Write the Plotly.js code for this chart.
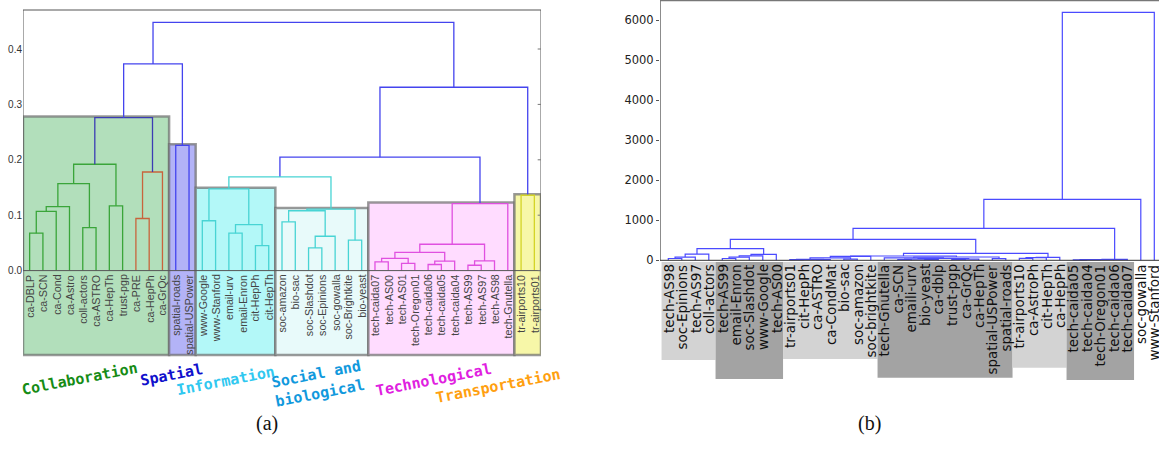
<!DOCTYPE html>
<html><head><meta charset="utf-8">
<script src="https://cdn.plot.ly/plotly-3.0.1.min.js"></script>
<style>html,body{margin:0;padding:0;overflow:hidden;background:#fff}#g{width:1159px;height:449px}</style>
</head><body><div id="g"></div><script>
// ================= DATA: panel (a) =================
const leavesA = ['ca-DBLP','ca-SCN','ca-Cond','ca-Astro','coll-actors','ca-ASTRO','ca-HepTh','trust-pgp','ca-PRE','ca-HepPh','ca-GrQc',
  'spatial-roads','spatial-USPower','www-Google','www-Stanford','email-urv','email-Enron','cit-HepPh','cit-HepTh',
  'soc-amazon','bio-sac','soc-Slashdot','soc-Epinions','soc-gowalla','soc-Brightkite','bio-yeast',
  'tech-caida07','tech-AS00','tech-AS01','tech-Oregon01','tech-caida06','tech-caida05','tech-caida04','tech-AS99','tech-AS97','tech-AS98','tech-Gnutella',
  'tr-airports10','tr-airports01'];
// linkage: merge k joins linkLeftA[k] and linkRightA[k] (ids >= 39 are earlier merges) at linkHeightA[k]
const linkLeftA   = [0,39,40,4,41,6,43,8,46,45,11,48,15,17,51,13,54,19,21,57,56,24,59,55,26,28,63,30,66,65,33,69,68,71,62,37,73,50];
const linkRightA  = [1,2,3,5,42,7,44,9,10,47,12,49,16,18,52,14,53,20,22,23,58,25,60,61,27,29,64,31,32,67,34,35,70,36,72,38,74,75];
const linkHeightA = [0.0675,0.107,0.1155,0.0776,0.157,0.117,0.192,0.094,0.178,0.276,0.226,0.373,
  0.0675,0.045,0.083,0.090,0.1475,0.088,0.041,0.062,0.108,0.055,0.111,0.169,
  0.0157,0.013,0.022,0.011,0.017,0.033,0.0097,0.0175,0.0476,0.121,0.2047,0.136,0.331,0.448];
const linkGroupA  = ['collab','collab','collab','collab','collab','collab','collab','collab2','collab2','navy','blue','blue',
  'info','info','info','info','info','info','info','info','info','info','info','info',
  'tech','tech','tech','tech','tech','tech','tech','tech','tech','tech','blue','trans','blue','blue'];
const tickValsA = [0,0.1,0.2,0.3,0.4];
const tickTextA = ['0.0','0.1','0.2','0.3','0.4'];
const classNamesA = ['Collaboration','Spatial','Information','Social and<br>biological','Technological','Transportation'];
const classFirstA = [0,11,13,19,26,37];
const classLastA  = [10,12,18,25,36,38];

// ================= DATA: panel (b) =================
const leavesB = ['tech-AS98','soc-Epinions','tech-AS97','coll-actors','tech-AS99','email-Enron','soc-Slashdot','www-Google','tech-AS00',
  'tr-airports01','cit-HepPh','ca-ASTRO','ca-CondMat','bio-sac','soc-amazon','soc-brightkite',
  'tech-Gnutella','ca-SCN','emaili-urv','bio-yeast','ca-dblp','trust-pgp','ca-GrQc','ca-HepTh','spatial-USPower','spatial-roads',
  'tr-airports10','ca-AstroPh','cit-HepTh','ca-HepPh','tech-caida05','tech-caida04','tech-Oregon01','tech-caida06','tech-caida07',
  'soc-gowalla','www-Stanford'];
const linkLeftB   = [0,37,38,4,40,41,42,39, 9,11,45,13,47,49, 17,19,51,21,54,53,16,24,57,50, 26,61,62, 60,44, 30,66,67,68, 65,70,71];
const linkRightB  = [1,2,3,5,6,7,8,43, 10,12,46,14,48,15, 18,20,52,22,23,55,56,25,58,59, 27,28,29, 63,64, 31,32,33,34, 69,35,36];
const linkHeightB = [45,80,155,45,80,110,150,292, 15,15,25,30,60,100, 20,20,30,20,30,45,60,42,83,107, 50,67,75, 175,525, 10,15,20,25, 800,1525,6200];
const tickValsB = [0,1000,2000,3000,4000,5000,6000];
const shadeFirstB = [0,4,9,16,26,30];
const shadeLastB  = [3,8,15,25,29,34];

// ================= LAYOUT CONSTANTS =================
const W = 1159, H = 449;
// panel (a) pixel mapping
const aX0 = 23, aX1 = 541, aY0px = 270.6, aPxPerUnit = 554;
const aRangeY = [(aY0px - H) / aPxPerUnit, aY0px / aPxPerUnit];
const aBoxBottom = (aY0px - 355) / aPxPerUnit;
const aTop = (aY0px - 10) / aPxPerUnit;
// panel (b) pixel mapping
const bX0 = 660, bLeaf0px = 668.3, bLeafStep = 13.5, bY0px = 260.3, bUnitPerPx = 25;
const bRangeX = [(bX0 - bLeaf0px) / bLeafStep, (W - bLeaf0px) / bLeafStep];
const bRangeY = [(bY0px - H) * bUnitPerPx, bY0px * bUnitPerPx];
const bPx = px => (bY0px - px) * bUnitPerPx;
const bShadeBottomPx = [360, 379, 359, 377.7, 367.7, 380];
const bShadeColor = ['#d3d3d3', '#a3a3a3'];

const colorA = {collab:'#3aa53a', collab2:'#c8643c', navy:'#3c3cb4', blue:'#4444ee', info:'#48d4d4', tech:'#e050e0', trans:'#d4d428'};
const boxFillA = ['#b2dfbb','#b3b3f7','#b3f8f8','#e8fafa','#ffdcff','#f7f7a8'];
const classColorA = ['#168c16','#1010cc','#30c8f0','#1199dd','#e020e0','#ffa010'];
const classPos = [[79,379,-11],[171,375,-11],[225,381,-11],[318,384,-11],[433,380,-11],[498,386,-11]];

function dendro(n, L, R, Hh) {
  const cx = [], ch = [];
  for (let i = 0; i < n; i++) { cx[i] = i; ch[i] = 0; }
  const links = [];
  for (let k = 0; k < L.length; k++) {
    const a = L[k], b = R[k], h = Hh[k];
    links.push({x: [cx[a], cx[a], cx[b], cx[b]], y: [ch[a], h, h, ch[b]]});
    cx[n + k] = (cx[a] + cx[b]) / 2; ch[n + k] = h;
  }
  return links;
}

const traces = [];
const linksA = dendro(leavesA.length, linkLeftA, linkRightA, linkHeightA);
Object.keys(colorA).forEach(g => {
  const xs = [], ys = [];
  linksA.forEach((l, k) => { if (linkGroupA[k] === g) { xs.push(...l.x, null); ys.push(...l.y, null); } });
  if (xs.length) traces.push({type:'scatter', mode:'lines', x:xs, y:ys, xaxis:'x', yaxis:'y',
    line:{color:colorA[g], width:1.3}, hoverinfo:'skip', showlegend:false});
});
const linksB = dendro(leavesB.length, linkLeftB, linkRightB, linkHeightB);
{
  const xs = [], ys = [];
  linksB.forEach(l => { xs.push(...l.x, null); ys.push(...l.y, null); });
  traces.push({type:'scatter', mode:'lines', x:xs, y:ys, xaxis:'x2', yaxis:'y2',
    line:{color:'#4a4aff', width:1.2}, hoverinfo:'skip', showlegend:false});
}

const shapes = [];
const annotations = [];
classFirstA.forEach((f, i) => {
  let top = 0;
  linksA.forEach((l, k) => {
    const lo = Math.min(l.x[0], l.x[3]), hi = Math.max(l.x[0], l.x[3]);
    if (lo >= f && hi <= classLastA[i]) top = Math.max(top, linkHeightA[k]);
  });
  shapes.push({type:'rect', xref:'x', yref:'y', x0:f - 0.5, x1:classLastA[i] + 0.5, y0:aBoxBottom, y1:top + 0.002,
    fillcolor:boxFillA[i], line:{color:'rgba(110,110,110,0.7)', width:2.5}, layer:'below'});
  annotations.push({xref:'paper', yref:'paper', x:classPos[i][0] / W, y:1 - classPos[i][1] / H, text:classNamesA[i],
    showarrow:false, textangle:classPos[i][2], xanchor:'center', yanchor:'middle',
    font:{family:'DejaVu Sans Mono', size:15, weight:'bold', color:classColorA[i]}});
});
const nA = leavesA.length;
shapes.push({type:'line', xref:'x', yref:'y', x0:-0.5, x1:nA - 0.5, y0:aTop, y1:aTop, line:{color:'#555', width:1}});
shapes.push({type:'line', xref:'x', yref:'y', x0:-0.5, x1:-0.5, y0:0, y1:aTop, line:{color:'#555', width:1}});
shapes.push({type:'line', xref:'x', yref:'y', x0:nA - 0.5, x1:nA - 0.5, y0:0, y1:aTop, line:{color:'#555', width:1}});
shapes.push({type:'line', xref:'x', yref:'y', x0:-0.5, x1:nA - 0.5, y0:0, y1:0, line:{color:'#555', width:1}});
tickValsA.forEach(v => shapes.push({type:'line', xref:'x', yref:'y', x0:nA - 0.5 - 0.25, x1:nA - 0.5, y0:v, y1:v, line:{color:'#777', width:1}}));
leavesA.forEach((t, i) => annotations.push({xref:'x', yref:'y', x:i, y:0, text:t, showarrow:false, textangle:-90,
  xanchor:'center', yanchor:'top', yshift:-2, font:{family:'Liberation Sans, Arial, sans-serif', size:10.7, color:'#444'}}));

shadeFirstB.forEach((f, i) => shapes.push({type:'rect', xref:'x2', yref:'y2', x0:f - 0.5, x1:shadeLastB[i] + 0.5,
  y0:bPx(bShadeBottomPx[i]), y1:bPx(262), fillcolor:bShadeColor[i % 2], line:{width:0}, layer:'below'}));
shapes.push({type:'line', xref:'x2', yref:'paper', x0:bRangeX[0], x1:bRangeX[0], y0:1, y1:1 - bY0px / H, line:{color:'#666', width:1.5}});
shapes.push({type:'line', xref:'x2', yref:'paper', x0:bRangeX[0], x1:bRangeX[1], y0:0.999, y1:0.999, line:{color:'#777', width:1.5}});
shapes.push({type:'line', xref:'x2', yref:'y2', x0:bRangeX[0], x1:bRangeX[1], y0:0, y1:0, line:{color:'#333', width:1}});
leavesB.forEach((t, i) => annotations.push({xref:'x2', yref:'y2', x:i, y:0, text:t, showarrow:false, textangle:-90,
  xanchor:'center', yanchor:'top', yshift:-2, font:{family:'DejaVu Sans', size:13.5, color:'#111'}}));

annotations.push({xref:'paper', yref:'paper', x:254 / W, y:1 - 437 / H, text:'(a)', showarrow:false,
  font:{family:'Liberation Serif, DejaVu Serif, serif', size:20, color:'#111'}});
annotations.push({xref:'paper', yref:'paper', x:883 / W, y:1 - 437 / H, text:'(b)', showarrow:false,
  font:{family:'Liberation Serif, DejaVu Serif, serif', size:20, color:'#111'}});

const layout = {
  width:W, height:H, margin:{l:0, r:0, t:0, b:0}, paper_bgcolor:'#fff', plot_bgcolor:'rgba(0,0,0,0)', showlegend:false,
  xaxis:{domain:[aX0 / W, aX1 / W], range:[-0.5, nA - 0.5], visible:false},
  yaxis:{domain:[0, 1], range:aRangeY, tickvals:tickValsA, ticktext:tickTextA, ticks:'', showgrid:false, zeroline:false,
    showline:false, tickfont:{family:'Liberation Sans, Arial, sans-serif', size:10, color:'#333'}},
  xaxis2:{domain:[bX0 / W, 1], range:bRangeX, visible:false},
  yaxis2:{domain:[0, 1], range:bRangeY, anchor:'x2', tickvals:tickValsB, ticks:'outside', ticklen:3, tickcolor:'#555',
    showgrid:false, zeroline:false, showline:false, tickfont:{family:'DejaVu Sans', size:11.5, color:'#222'}},
  shapes:shapes, annotations:annotations
};
Plotly.newPlot('g', traces, layout, {staticPlot:true, displayModeBar:false});
</script></body></html>
